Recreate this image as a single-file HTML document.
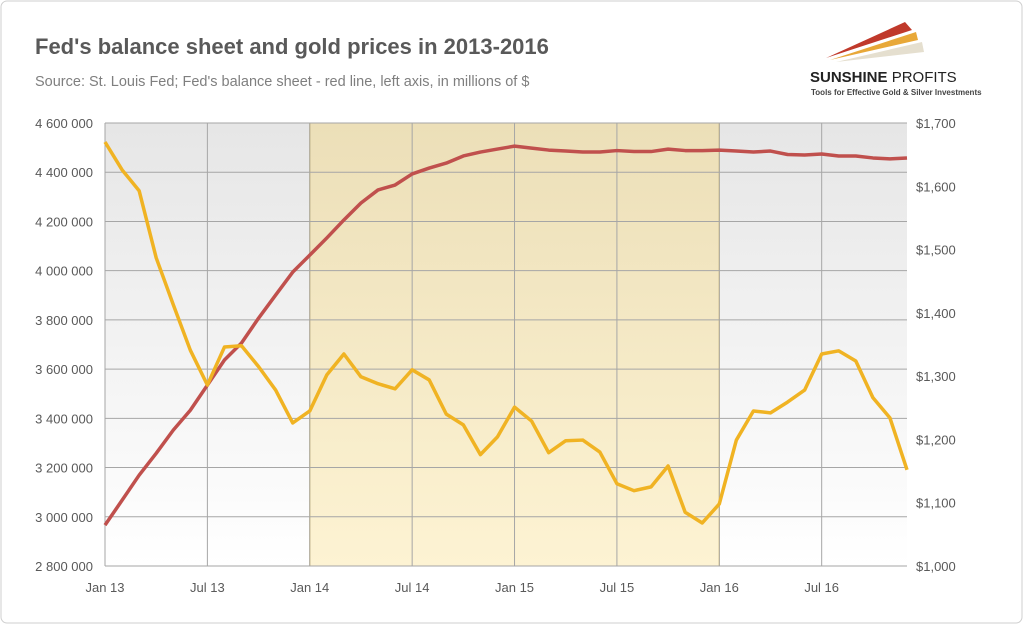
<!DOCTYPE html>
<html><head><meta charset="utf-8">
<style>
body{margin:0;background:#fff;width:1024px;height:625px;overflow:hidden;font-family:"Liberation Sans",sans-serif}
</style></head>
<body>
<svg id="chart" width="1024" height="625" xmlns="http://www.w3.org/2000/svg">
<defs>
<linearGradient id="bg" x1="0" y1="0" x2="0" y2="1"><stop offset="0" stop-color="#e6e6e6"/><stop offset="1" stop-color="#ffffff"/></linearGradient>
<linearGradient id="sh" x1="0" y1="0" x2="0" y2="1"><stop offset="0" stop-color="#ecdfb8"/><stop offset="1" stop-color="#fdf3d3"/></linearGradient>
</defs>
<rect x="1" y="1" width="1021" height="622" rx="6" fill="#fff" stroke="#cfcfcf"/>
<text x="35" y="54" font-size="22" font-weight="bold" fill="#595959">Fed's balance sheet and gold prices in 2013-2016</text>
<text x="35" y="86" font-size="14.5" fill="#7f7f7f">Source: St. Louis Fed; Fed's balance sheet - red line, left axis, in millions of $</text>
<g>
<polygon points="826,58 905,22 912,30" fill="#c0392b"/>
<polygon points="830,60 916,32 918,40" fill="#e8a838"/>
<polygon points="836,62 922,42 924,52" fill="#e5dfcf"/>
<text x="810" y="82" font-size="15" font-weight="bold" fill="#222">SUNSHINE <tspan font-weight="normal">PROFITS</tspan></text>
<text x="811" y="95" font-size="8" fill="#444" font-weight="bold">Tools for Effective Gold &amp; Silver Investments</text>
</g>
<g id="plot"></g>
</svg>
<script>
const months=["Jan 13","Jul 13","Jan 14","Jul 14","Jan 15","Jul 15","Jan 16","Jul 16"];
const leftTicks=[2800000,3000000,3200000,3400000,3600000,3800000,4000000,4200000,4400000,4600000];
const rightTicks=[1000,1100,1200,1300,1400,1500,1600,1700];
const fed=[2966,3067,3169,3258,3352,3433,3535,3637,3706,3807,3901,3994,4063,4133,4206,4275,4328,4348,4393,4417,4437,4466,4482,4494,4506,4498,4490,4486,4482,4482,4488,4484,4484,4494,4488,4488,4490,4486,4482,4486,4472,4470,4474,4466,4466,4458,4454,4458];
const gold=[1670,1626,1593,1487,1413,1341,1286,1346,1348,1315,1278,1226,1245,1302,1335,1299,1288,1280,1310,1294,1240,1223,1176,1204,1251,1229,1179,1198,1199,1180,1130,1119,1125,1158,1085,1068,1098,1199,1245,1242,1259,1278,1335,1340,1324,1266,1234,1152];
const shadeStart=12, shadeEnd=36;
const X0=105,X1=907,Y0=123,Y1=566;
const x=i=>X0+i*(X1-X0)/47;
const yL=v=>Y1-(v-2800000)/(1800000)*(Y1-Y0);
const yR=v=>Y1-(v-1000)/700*(Y1-Y0);
const NS="http://www.w3.org/2000/svg";
const g=document.getElementById('plot');
function mk(t,a,p){const e=document.createElementNS(NS,t);for(const k in a)e.setAttribute(k,a[k]);(p||g).appendChild(e);return e;}
let e=mk('rect',{x:X0,y:Y0,width:X1-X0,height:Y1-Y0,fill:'url(#bg)'});


e=mk('rect',{x:x(shadeStart),y:Y0,width:x(shadeEnd)-x(shadeStart),height:Y1-Y0,fill:'url(#sh)',stroke:'#e0b840','stroke-width':1});


leftTicks.forEach(v=>{
 const l=mk('line',{x1:X0,x2:X1,y1:yL(v),y2:yL(v),stroke:'#a6a6a6','stroke-width':1});
 
 
 const t=mk('text',{x:X0-12,y:yL(v)+5,'text-anchor':'end','font-size':13,fill:'#595959'});
 t.textContent=v.toLocaleString('en-US').replace(/,/g,' ');
 
 
});
rightTicks.forEach(v=>{
 const t=mk('text',{x:X1+9,y:yR(v)+5,'font-size':13,fill:'#595959'});
 t.textContent='$'+v.toLocaleString('en-US');
 
 
});
months.forEach((m,k)=>{
 const i=k*6;
 const l=mk('line',{x1:x(i),x2:x(i),y1:Y0,y2:Y1,stroke:'#a6a6a6','stroke-width':1});
 
 
 const t=mk('text',{x:x(i),y:Y1+26,'text-anchor':'middle','font-size':13,fill:'#595959'});
 t.textContent=m;
 
 
});
e=mk('polyline',{points:fed.map((v,i)=>x(i)+','+yL(v*1000)).join(' '),fill:'none',stroke:'#c0504d','stroke-width':3.5,'stroke-linejoin':'round'});


e=mk('polyline',{points:gold.map((v,i)=>x(i)+','+yR(v)).join(' '),fill:'none',stroke:'#f0b323','stroke-width':3.5,'stroke-linejoin':'round'});


</script>
</body></html>
